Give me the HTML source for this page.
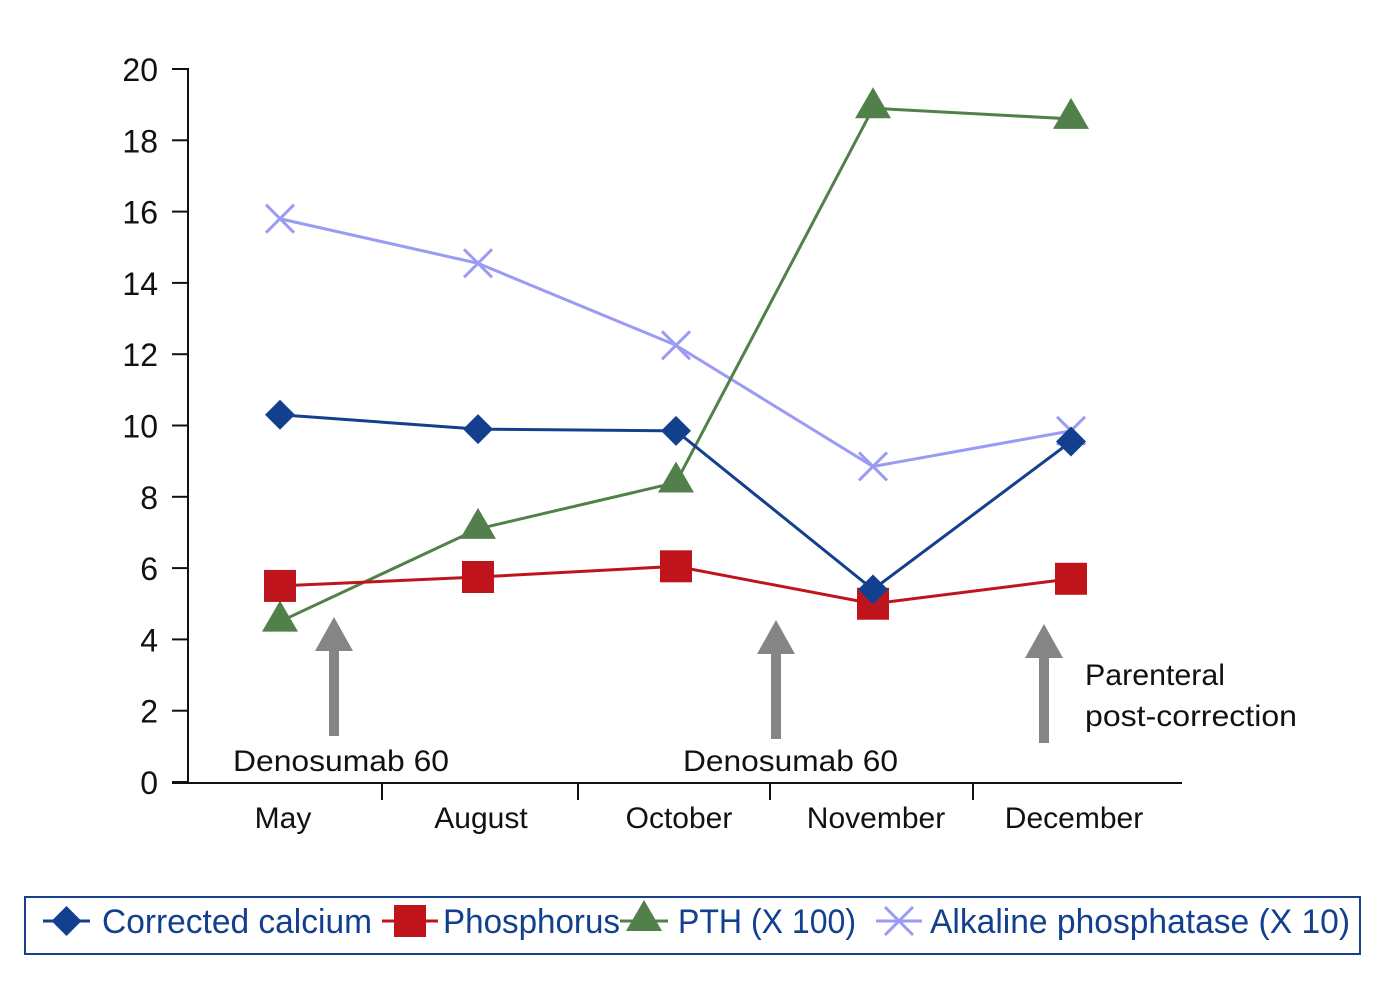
<!DOCTYPE html>
<html><head><meta charset="utf-8"><style>
body{margin:0;background:#fff}
svg{display:block;font-family:"Liberation Sans",sans-serif}
</style></head><body>
<svg width="1384" height="986">
<g id="axes"></g><g id="series"></g><g id="notes"></g><g id="legend"></g>
</svg>
<script>
const categories=["May","August","October","November","December"];
const yTicks=[0,2,4,6,8,10,12,14,16,18,20];
const calcium=[10.3,9.9,9.85,5.4,9.55];
const phosphorus=[5.5,5.75,6.05,5.0,5.7];
const pth=[4.5,7.1,8.4,18.9,18.6];
const alp=[15.8,14.55,12.25,8.85,9.85];
const NS="http://www.w3.org/2000/svg";
const catX=[280,478,676,873,1071];
const y0=782,yTop=69;
function yScale(v){return y0-(v/20)*(y0-yTop);}
function xScale(i){return catX[i];}
function mk(tag,attrs,parent,text){const e=document.createElementNS(NS,tag);for(const k in attrs)e.setAttribute(k,attrs[k]);if(text!==undefined)e.textContent=text;parent.appendChild(e);return e;}
const axes=document.getElementById('axes');
let a=mk('line',{x1:188,y1:68,x2:188,y2:783,stroke:'#111','stroke-width':2},axes);


a=mk('line',{x1:172,y1:783,x2:1182,y2:783,stroke:'#111','stroke-width':2},axes);


yTicks.forEach(t=>{const y=yScale(t);
 mk('line',{x1:172,y1:y,x2:188,y2:y,stroke:'#111','stroke-width':2},axes);
 const l=mk('text',{x:158,y:y+12,'font-size':32,'text-anchor':'end',fill:'#111'},axes,String(t));
 
 
});
[382,578,770,973].forEach(x=>mk('line',{x1:x,y1:783,x2:x,y2:800,stroke:'#111','stroke-width':2},axes));
categories.forEach((c,i)=>{const l=mk('text',{x:xScale(i)+3,y:828,'font-size':30,'text-anchor':'middle',fill:'#111'},axes,c);
 
 });
const series=document.getElementById('series');
function marker(g,type,x,y,color){
 if(type==='diamond')mk('polygon',{points:`${x},${y-15} ${x+15},${y} ${x},${y+15} ${x-15},${y}`,fill:color},g);
 else if(type==='square')mk('rect',{x:x-16,y:y-16,width:32,height:32,fill:color},g);
 else if(type==='triangle')mk('polygon',{points:`${x},${y-21} ${x+18},${y+10} ${x-18},${y+10}`,fill:color},g);
 else {mk('line',{x1:x-14,y1:y-14,x2:x+14,y2:y+14,stroke:color,'stroke-width':3},g);mk('line',{x1:x-14,y1:y+14,x2:x+14,y2:y-14,stroke:color,'stroke-width':3},g);}
}
function drawSeries(vals,color,type,name){
 const g=mk('g',{},series);
 
 
 mk('polyline',{points:vals.map((v,i)=>xScale(i)+','+yScale(v)).join(' '),fill:'none',stroke:color,'stroke-width':3},g);
 vals.forEach((v,i)=>marker(g,type,xScale(i),yScale(v),color));
}
drawSeries(alp,'#9b9bf5','x','series-alkaline-phosphatase');
drawSeries(pth,'#52804a','triangle','series-pth');
drawSeries(phosphorus,'#c0141c','square','series-phosphorus');
drawSeries(calcium,'#12408f','diamond','series-corrected-calcium');
const notes=document.getElementById('notes');
function arrow(x,yb,yt,name){const g=mk('g',{},notes);
 
 
 mk('rect',{x:x-5,y:yt+30,width:10,height:yb-yt-30,fill:'#858585'},g);
 mk('polygon',{points:`${x},${yt} ${x+19},${yt+34} ${x-19},${yt+34}`,fill:'#858585'},g);}
arrow(334,736,617,'arrow-may');arrow(776,739,620,'arrow-november');arrow(1044,743,624,'arrow-december');
[[233,771,'Denosumab 60',216],[683,771,'Denosumab 60',215],[1085,685,'Parenteral',140],[1085,726,'post-correction',212]].forEach(d=>{
 const t=mk('text',{x:d[0],y:d[1],'font-size':30,fill:'#111',textLength:d[3],lengthAdjust:'spacingAndGlyphs'},notes,d[2]);
 
 });
const lg=document.getElementById('legend');
const box=mk('rect',{x:25,y:897,width:1335,height:57,fill:'none',stroke:'#1a3f8c','stroke-width':2},lg);


[['#12408f','diamond',43,90,102,'Corrected calcium',270],['#c0141c','square',382,438,443,'Phosphorus',177],
 ['#52804a','triangle',620,668,678,'PTH (X 100)',178],['#9b9bf5','x',876,922,930,'Alkaline phosphatase (X 10)',420]].forEach(d=>{
 const g=mk('g',{},lg);
 
 
 const yc=921;mk('line',{x1:d[2],y1:yc,x2:d[3],y2:yc,stroke:d[0],'stroke-width':3},g);
 marker(g,d[1],(d[2]+d[3])/2,yc,d[0]);
 mk('text',{x:d[4],y:933,'font-size':34,fill:'#12408f',textLength:d[6],lengthAdjust:'spacingAndGlyphs'},g,d[5]);
});
</script>
</body></html>
